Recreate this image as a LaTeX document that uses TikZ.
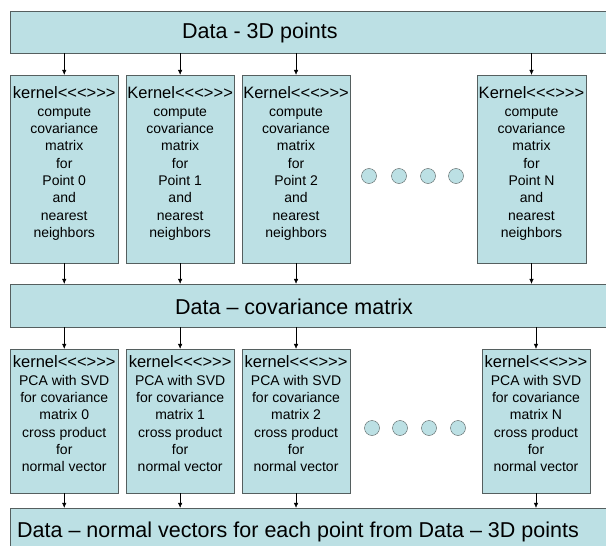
\documentclass[tikz,border=0pt]{standalone}
\usepackage{fontspec}
\newfontfamily\arial{Liberation Sans}
\usetikzlibrary{arrows.meta,positioning}

\definecolor{boxfill}{RGB}{188,224,228}
\definecolor{boxline}{RGB}{85,95,95}

% kernel box body: height, first line, other lines
\newcommand{\kbody}[3]{\parbox[t][#1][t]{108pt}{\centering{\fontsize{16.5}{16}\selectfont #2\par}\fontsize{14}{17.3}\selectfont #3}}

\begin{document}
\begin{tikzpicture}[x=1pt,y=-1pt]
      \tikzset{
        databox/.style={draw=boxline,fill=boxfill,minimum width=610pt,inner sep=0pt},
        datatext/.style={font=\arial\fontsize{21.5}{24}\selectfont,inner sep=0pt,anchor=base west},
        kbox/.style={draw=boxline,fill=boxfill,minimum width=108.5pt,inner xsep=0pt,font=\arial},
        more/.style={circle,draw=boxline,fill=boxfill,minimum size=15pt,inner sep=0pt},
        flow/.style={-{Latex[length=5pt,width=4.5pt]},thin}
      }
      \useasboundingbox (0,0) rectangle (606,546);

      % data rows
      \node[databox,minimum height=42pt] (pts) at (315,32) {};
      \node[datatext] (ptslbl) at (182,38) {Data - 3D points};
      \node[databox,minimum height=43pt] (cov) at (315,305.5) {};
      \node[datatext] (covlbl) at (175,314) {Data – covariance matrix};
      \node[databox,minimum height=52pt] (nrm) at (315,534) {};
      \node[datatext] (nrmlbl) at (17,537) {Data – normal vectors for each point from Data – 3D points};

      % covariance kernels
      \node[kbox,inner ysep=12pt] (k0) at (64.25,169) {\kbody{164pt}{kernel<<<>>>}{compute\\covariance\\matrix\\for\\Point 0\\and\\nearest\\neighbors}};
      \node[kbox,inner ysep=12pt,right=7pt of k0] (k1) {\kbody{164pt}{Kernel<<<>>>}{compute\\covariance\\matrix\\for\\Point 1\\and\\nearest\\neighbors}};
      \node[kbox,inner ysep=12pt,right=7pt of k1] (k2) {\kbody{164pt}{Kernel<<<>>>}{compute\\covariance\\matrix\\for\\Point 2\\and\\nearest\\neighbors}};
      \node[kbox,inner ysep=12pt] (kN) at (531.5,169) {\kbody{164pt}{Kernel<<<>>>}{compute\\covariance\\matrix\\for\\Point N\\and\\nearest\\neighbors}};

      % PCA kernels
      \node[kbox,inner ysep=7pt] (p0) at (64.25,421) {\kbody{130pt}{kernel<<<>>>}{PCA with SVD\\for covariance\\matrix 0\\cross product\\for\\normal vector}};
      \node[kbox,inner ysep=7pt,right=7pt of p0] (p1) {\kbody{130pt}{kernel<<<>>>}{PCA with SVD\\for covariance\\matrix 1\\cross product\\for\\normal vector}};
      \node[kbox,inner ysep=7pt,right=7pt of p1] (p2) {\kbody{130pt}{kernel<<<>>>}{PCA with SVD\\for covariance\\matrix 2\\cross product\\for\\normal vector}};
      \node[kbox,inner ysep=7pt] (pN) at (536,421) {\kbody{130pt}{kernel<<<>>>}{PCA with SVD\\for covariance\\matrix N\\cross product\\for\\normal vector}};

      \foreach \x [count=\i] in {369,399,428,456}
        \node[more] (km\i) at (\x,176) {};
      \foreach \x [count=\i] in {372,400,429,458}
        \node[more] (pm\i) at (\x,428) {};

      \foreach \c in {0,1,2,N} {
        \draw[flow] (pts.south -| k\c.north) -- (k\c.north);
        \draw[flow] (k\c.south) -- (cov.north -| k\c.south);
        \draw[flow] (cov.south -| p\c.north) -- (p\c.north);
        \draw[flow] (p\c.south) -- (nrm.north -| p\c.south);
      }
    \end{tikzpicture}
\end{document}
